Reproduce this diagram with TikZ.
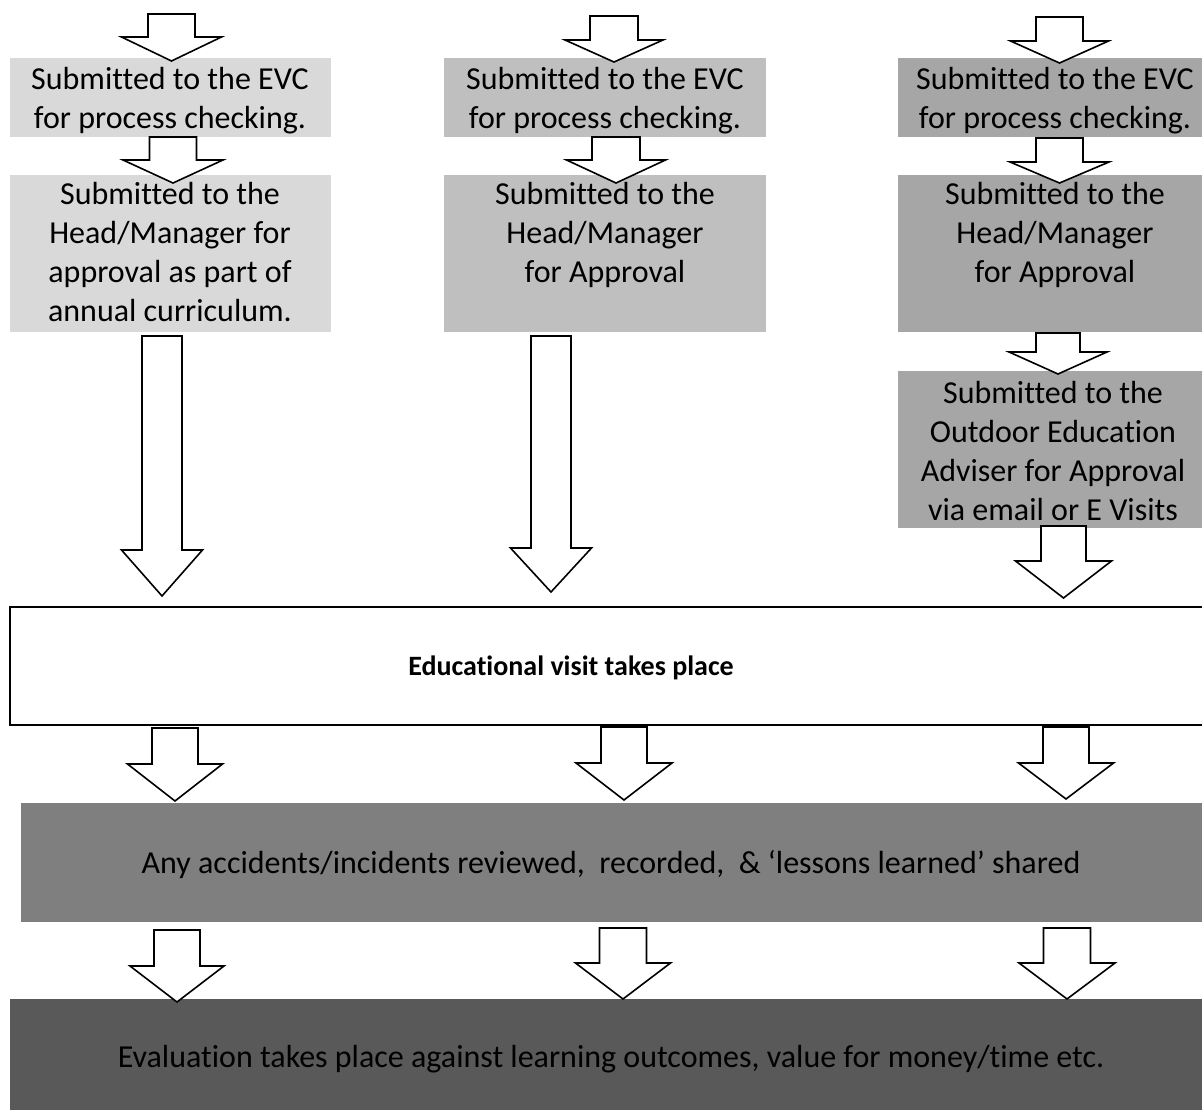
\documentclass[tikz,border=0pt]{standalone}
\usepackage{fontspec}
\setmainfont{Carlito}[RawFeature={-liga;-clig}]
\definecolor{cA}{HTML}{D9D9D9}
\definecolor{cB}{HTML}{BFBFBF}
\definecolor{cC}{HTML}{A6A6A6}
\definecolor{cD}{HTML}{7F7F7F}
\definecolor{cE}{HTML}{595959}
\tikzset{
  blk/.style={draw=black, line width=1.6pt, fill=white, line join=miter},
  txt/.style={inner sep=0pt, align=center, font=\fontsize{32}{39}\selectfont},
  panel/.style={inner sep=0pt, draw=none, anchor=north west},
}
% block arrow: centre x, top y, shaft half width, head base y, head half width, tip y
\newcommand\blockarrow[6]{%
  \draw[blk] ({#1-#3},#2) -- ({#1+#3},#2) -- ({#1+#3},#4) -- ({#1+#5},#4)
    -- (#1,#6) -- ({#1-#5},#4) -- ({#1-#3},#4) -- cycle;}
\begin{document}
\begin{tikzpicture}[x=1pt,y=-1pt]
\useasboundingbox (0,0) rectangle (1202,1110);

% ---- column boxes ----
\node[panel, fill=cA, minimum width=321, minimum height=79]  (a1) at (10,58) {};
\node[panel, fill=cA, minimum width=321, minimum height=157] (a2) at (10,175) {};
\node[panel, fill=cB, minimum width=322, minimum height=79]  (b1) at (444,58) {};
\node[panel, fill=cB, minimum width=322, minimum height=157] (b2) at (444,175) {};
\node[panel, fill=cC, minimum width=304, minimum height=79]  (c1) at (898,58) {};
\node[panel, fill=cC, minimum width=304, minimum height=157] (c2) at (898,175) {};
\node[panel, fill=cC, minimum width=304, minimum height=157] (c3) at (898,371) {};

% ---- texts (first baseline = north + 27.3) ----
\node[txt, anchor=north] (ta1) at (170,61.7) {\strut Submitted to the EVC\\for process checking.};
\node[txt, anchor=north] (ta2) at (170,176.7) {\strut Submitted to the\\Head/Manager for\\approval as part of\\annual curriculum.};
\node[txt, anchor=north] (tb1) at (605,61.7) {\strut Submitted to the EVC\\for process checking.};
\node[txt, anchor=north] (tb2) at (605,176.7) {\strut Submitted to the\\Head/Manager\\for Approval};
\node[txt, anchor=north] (tc1) at (1055,61.7) {\strut Submitted to the EVC\\for process checking.};
\node[txt, anchor=north] (tc2) at (1055,176.7) {\strut Submitted to the\\Head/Manager\\for Approval};
\node[txt, anchor=north] (tc3) at (1053,375.7) {\strut Submitted to the\\Outdoor Education\\Adviser for Approval\\via email or E Visits};

% ---- wide boxes ----
\draw[line width=2.2pt] (1204,607) -- (10,607) -- (10,725) -- (1204,725);
\coordinate (visit) at (571,675);
\node[txt, anchor=base, font=\fontsize{28}{34}\selectfont\bfseries] (tvisit) at (visit) {Educational visit takes place};

\node[panel, fill=cD, minimum width=1181, minimum height=119] (acc) at (21,803) {};
\node[txt, anchor=base] (tacc) at (611,873) {Any accidents/incidents reviewed,\ \ recorded,\ \ \& ‘lessons learned’ shared};

\node[panel, fill=cE, minimum width=1192, minimum height=111] (eval) at (10,999) {};
\node[txt, anchor=base] (teval) at (611,1067) {Evaluation takes place against learning outcomes, value for money/time etc.};

% ---- block arrows ----
\blockarrow{171.5}{14}{23.5}{37}{50}{61}
\blockarrow{173}{137}{23.5}{160}{50}{183}
\blockarrow{614}{16}{24}{40}{49}{62}
\blockarrow{616}{137}{24}{160}{49.5}{183}
\blockarrow{1059.5}{17}{23.5}{41}{49}{63}
\blockarrow{1059.5}{138}{23.5}{162}{49.5}{183}
\blockarrow{1058}{333}{22}{352}{49}{374}
\blockarrow{1063.5}{526}{22.5}{561}{48}{598}
\blockarrow{162}{336}{20}{550}{40.5}{596}
\blockarrow{551}{336}{20}{548}{40.5}{592}
\blockarrow{175}{728}{23}{764}{47.5}{801}
\blockarrow{624}{727}{23}{763}{48}{800}
\blockarrow{1066}{727}{23}{763}{47.5}{799}
\blockarrow{177}{930}{23}{966}{47}{1002}
\blockarrow{623}{928}{23.5}{963}{47.5}{999}
\blockarrow{1067}{928}{23.5}{963}{48}{999}
\end{tikzpicture}
\end{document}
